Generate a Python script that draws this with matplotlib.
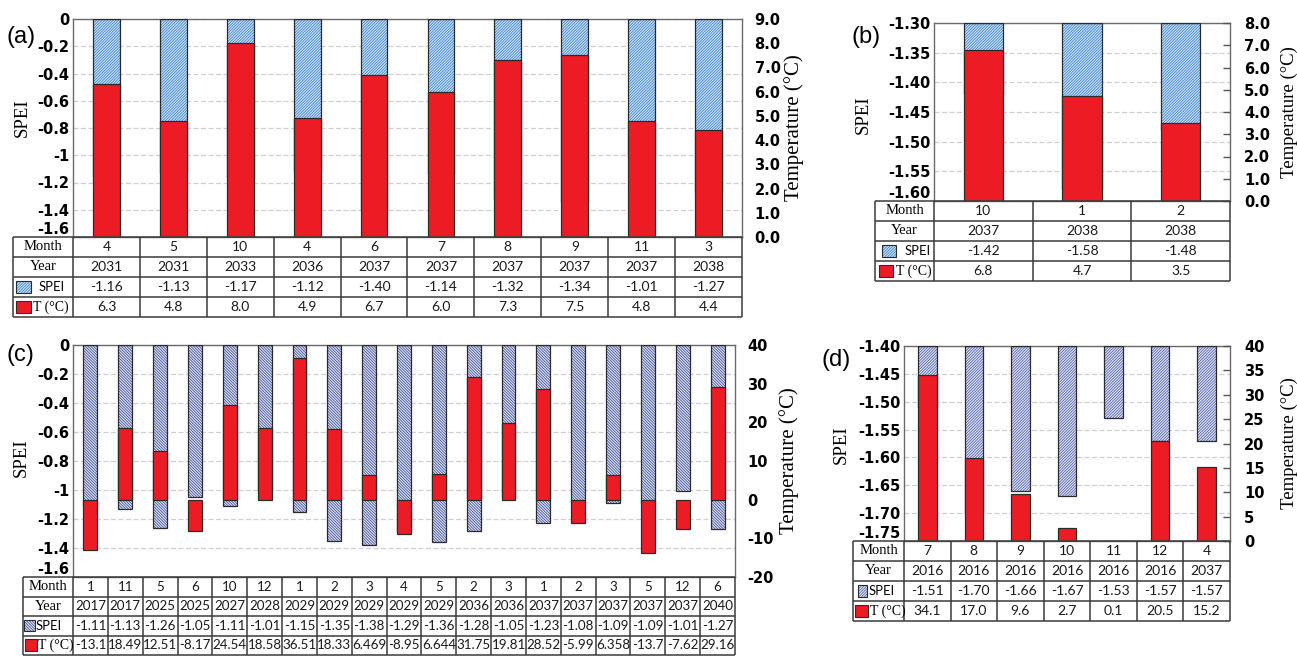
import matplotlib
matplotlib.use('Agg')
import matplotlib.pyplot as plt
import numpy as np
from matplotlib.patches import Rectangle

plt.rcParams['hatch.linewidth'] = 0.6

# ---------------- data ----------------
a_month = [4, 5, 10, 4, 6, 7, 8, 9, 11, 3]
a_year = [2031, 2031, 2033, 2036, 2037, 2037, 2037, 2037, 2037, 2038]
a_spei = [-1.16, -1.13, -1.17, -1.12, -1.40, -1.14, -1.32, -1.34, -1.01, -1.27]
a_temp = ['6.3', '4.8', '8.0', '4.9', '6.7', '6.0', '7.3', '7.5', '4.8', '4.4']
a_spei_ticks = [0, -0.2, -0.4, -0.6, -0.8, -1, -1.2, -1.4, -1.6]
a_temp_ticks = [0, 1, 2, 3, 4, 5, 6, 7, 8, 9]

b_month = [10, 1, 2]
b_year = [2037, 2038, 2038]
b_spei = [-1.42, -1.58, -1.48]
b_temp = ['6.8', '4.7', '3.5']
b_spei_ticks = [-1.30, -1.35, -1.40, -1.45, -1.50, -1.55, -1.60]
b_temp_ticks = [0, 1, 2, 3, 4, 5, 6, 7, 8]

c_month = [1, 11, 5, 6, 10, 12, 1, 2, 3, 4, 5, 2, 3, 1, 2, 3, 5, 12, 6]
c_year = [2017, 2017, 2025, 2025, 2027, 2028, 2029, 2029, 2029, 2029, 2029,
          2036, 2036, 2037, 2037, 2037, 2037, 2037, 2040]
c_spei = [-1.11, -1.13, -1.26, -1.05, -1.11, -1.01, -1.15, -1.35, -1.38, -1.29,
          -1.36, -1.28, -1.05, -1.23, -1.08, -1.09, -1.09, -1.01, -1.27]
c_temp = ['-13.1', '18.49', '12.51', '-8.17', '24.54', '18.58', '36.51', '18.33',
          '6.469', '-8.95', '6.644', '31.75', '19.81', '28.52', '-5.99', '6.358',
          '-13.7', '-7.62', '29.16']
c_spei_ticks = [0, -0.2, -0.4, -0.6, -0.8, -1, -1.2, -1.4, -1.6]
c_temp_ticks = [-20, -10, 0, 10, 20, 30, 40]

d_month = [7, 8, 9, 10, 11, 12, 4]
d_year = [2016, 2016, 2016, 2016, 2016, 2016, 2037]
d_spei = [-1.51, -1.70, -1.66, -1.67, -1.53, -1.57, -1.57]
d_temp = ['34.1', '17.0', '9.6', '2.7', '0.1', '20.5', '15.2']
d_spei_ticks = [-1.40, -1.45, -1.50, -1.55, -1.60, -1.65, -1.70, -1.75]
d_temp_ticks = [0, 5, 10, 15, 20, 25, 30, 35, 40]

RED = '#ED1C24'
EDGE = '#2b2b2b'
LINE = '#3a3a3a'

W, H = 1297, 656
fig = plt.figure(figsize=(W / 100, H / 100), dpi=100)


def fax(x0, y0, x1, y1):
    return fig.add_axes([x0 / W, 1 - y1 / H, (x1 - x0) / W, (y1 - y0) / H])


def panel(box, tx0, ty1, months, years, spei, temps, sticks, sfmt, tticks, tfmt,
          hatch, hface, hcol, tick_in, temp_fs, spei_xy, temp_x, letter, letter_xy,
          icon, tfs):
    x0, y0, x1, y1 = box
    n = len(months)
    xs = np.arange(n) + 0.5
    ax = fax(x0, y0, x1, y1)
    top = max(sticks)
    bot = min(sticks)
    sp = np.array(spei)
    ax.bar(xs, sp - top, bottom=top, width=0.4, facecolor=hface, edgecolor=hcol,
           hatch=hatch, linewidth=0, zorder=2)
    ax.bar(xs, sp - top, bottom=top, width=0.4, facecolor='none', edgecolor=EDGE,
           linewidth=0.9, zorder=3)
    ax.set_xlim(0, n)
    ax.set_ylim(bot, top)
    ax.set_xticks([])
    ax.set_yticks(sticks)
    ax.set_yticklabels([sfmt(v) for v in sticks], fontfamily='DejaVu Sans',
                       fontweight='bold', fontsize=10.5)
    ax.get_yticklabels()[-1 if sticks[-1] == bot else 0].set_va('bottom')
    ax.tick_params(axis='y', length=0, pad=2.5)
    ax.yaxis.grid(True, color='#d0d0d0', linestyle=(0, (4, 2)), linewidth=0.9)
    ax.set_axisbelow(True)
    for s in ax.spines.values():
        s.set_color('#6a6a6a')
        s.set_linewidth(1.0)

    tv = np.array([float(t) for t in temps])
    ax2 = ax.twinx()
    ax2.bar(xs, tv, width=0.4, color=RED, edgecolor=EDGE, linewidth=0.9, zorder=3)
    ax2.set_xlim(0, n)
    ax2.set_ylim(min(tticks), max(tticks))
    ax2.set_yticks(tticks)
    ax2.set_yticklabels([tfmt(v) for v in tticks], fontfamily='DejaVu Sans',
                        fontweight='bold', fontsize=10.5)
    if tick_in:
        ax2.tick_params(axis='y', direction='in', length=5, width=1,
                        color='#555555', pad=10)
    else:
        ax2.tick_params(axis='y', length=0, pad=9)
    for s in ax2.spines.values():
        s.set_visible(False)

    # axis titles
    fig.text(spei_xy[0] / W, 1 - spei_xy[1] / H, 'SPEI', rotation=90,
             ha='center', va='center', fontfamily='Liberation Serif', fontsize=13.5)
    fig.text(temp_x / W, 1 - ((y0 + y1) / 2) / H, 'Temperature (°C)', rotation=90,
             ha='center', va='center', fontfamily='Liberation Serif', fontsize=temp_fs)
    fig.text(letter_xy[0] / W, 1 - letter_xy[1] / H, letter, ha='center',
             va='center', fontfamily='Liberation Sans', fontsize=17)

    # table
    tax = fax(tx0, y1, x1, ty1)
    colw = (x1 - x0) / n
    lab_w = (x0 - tx0) / colw
    tax.set_xlim(-lab_w, n)
    tax.set_ylim(4, 0)
    tax.axis('off')
    for r in range(5):
        tax.plot([-lab_w, n], [r, r], color=LINE, lw=1.1, clip_on=False,
                 solid_capstyle='butt')
    for c in [-lab_w] + list(range(n + 1)):
        tax.plot([c, c], [0, 4], color=LINE, lw=1.1, clip_on=False,
                 solid_capstyle='butt')
    rows = [[str(m) for m in months], [str(y) for y in years],
            ['%.2f' % s for s in spei], list(temps)]
    for r, vals in enumerate(rows):
        for c, v in enumerate(vals):
            tax.text(c + 0.5, r + 0.5, v, ha='center', va='center',
                     fontfamily='Lato', fontsize=tfs, color='#1a1a1a')
    tax.text(-lab_w / 2, 0.5, 'Month', ha='center', va='center',
             fontfamily='Liberation Serif', fontsize=10.5)
    tax.text(-lab_w / 2, 1.5, 'Year', ha='center', va='center',
             fontfamily='Liberation Serif', fontsize=10.5)

    def u(px):
        return px / colw - lab_w

    si_x, si_w, st_x, ti_x, ti_w, tt_x = icon
    tax.add_patch(Rectangle((u(si_x), 2.22), si_w / colw, 0.56, facecolor=hface,
                            edgecolor=hcol, hatch=hatch, linewidth=0))
    tax.add_patch(Rectangle((u(si_x), 2.22), si_w / colw, 0.56, facecolor='none',
                            edgecolor=EDGE, linewidth=0.8))
    tax.text(u(st_x), 2.5, 'SPEI', ha='left', va='center', fontfamily='Lato',
             fontsize=9.4)
    tax.add_patch(Rectangle((u(ti_x), 3.2), ti_w / colw, 0.62, facecolor=RED,
                            edgecolor=EDGE, linewidth=0.8))
    tax.text(u(tt_x), 3.5, 'T (°C)', ha='left', va='center',
             fontfamily='Liberation Serif', fontsize=10)


fmt_g = lambda v: f'{v:g}'
fmt_2 = lambda v: f'{v:.2f}'
fmt_1 = lambda v: f'{v:.1f}'
fmt_i = lambda v: f'{v:d}'

HA = '/' * 12
HC = '\\' * 12

panel((73, 19, 742, 237), 13, 317, a_month, a_year, a_spei, a_temp,
      a_spei_ticks, fmt_g, a_temp_ticks, fmt_1, HA, '#cfe2f6', '#3d85d6',
      False, 15, (22, 118), 794, '(a)', (21, 37), (3, 15, 26, 3, 15, 20), 10)
panel((934, 23, 1230, 201), 875, 281, b_month, b_year, b_spei, b_temp,
      b_spei_ticks, fmt_2, b_temp_ticks, fmt_1, HA, '#cfe2f6', '#3d85d6',
      True, 13.5, (863, 115), 1289, '(b)', (866, 37), (7, 14, 30, 4, 14, 21), 10)
panel((73, 345, 735, 577), 23, 655, c_month, c_year, c_spei, c_temp,
      c_spei_ticks, fmt_g, c_temp_ticks, fmt_i, HC, '#dfe3f2', '#45559c',
      False, 15, (21, 458), 789, '(c)', (20, 355), (1, 11, 13, 2, 12, 15), 9.6)
panel((904, 346, 1230, 541), 853, 621, d_month, d_year, d_spei, d_temp,
      d_spei_ticks, fmt_2, d_temp_ticks, fmt_i, HA, '#e2e5f4', '#5566b2',
      True, 13.5, (841, 445), 1289, '(d)', (836, 360), (5, 9, 16, 2, 13, 17), 10)

fig.savefig('out.png', dpi=100)
